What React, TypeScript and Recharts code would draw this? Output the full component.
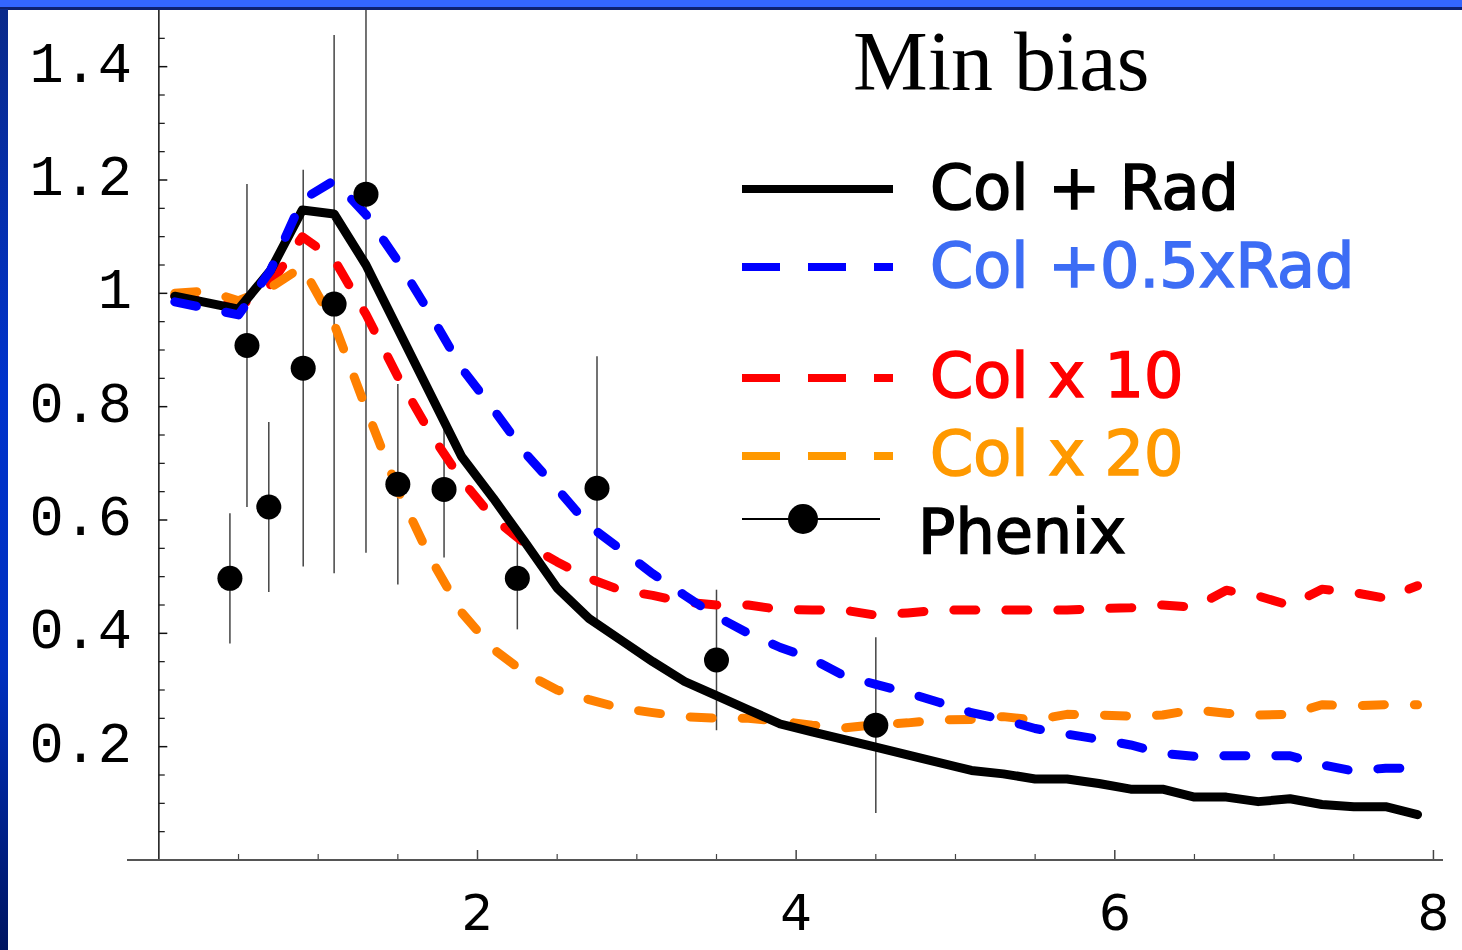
import React from 'react';
import {
  ComposedChart,
  Line,
  Scatter,
  ErrorBar,
  XAxis,
  YAxis,
  ReferenceLine,
} from 'recharts';

// Curves as [pT, ratio] pairs
const colRad: [number, number][] = [
  [0.1, 0.995], [0.5, 0.972], [0.7, 1.04], [0.9, 1.147], [1.1, 1.14], [1.3, 1.05],
  [1.9, 0.712], [2.1, 0.638], [2.3, 0.56], [2.5, 0.48], [2.7, 0.426], [2.9, 0.388],
  [3.1, 0.35], [3.3, 0.315], [3.5, 0.29], [3.7, 0.265], [3.9, 0.24], [4.1, 0.226],
  [4.5, 0.199], [5.1, 0.158], [5.3, 0.152], [5.5, 0.143], [5.7, 0.143], [5.9, 0.135],
  [6.1, 0.125], [6.3, 0.125], [6.5, 0.111], [6.7, 0.111], [6.9, 0.103], [7.1, 0.108],
  [7.3, 0.098], [7.5, 0.094], [7.7, 0.094], [7.9, 0.08],
];

const colHalfRad: [number, number][] = [
  [0.1, 0.985], [0.5, 0.962], [0.7, 1.04], [0.9, 1.165], [1.1, 1.199], [1.3, 1.139],
  [1.5, 1.057], [1.7, 0.965], [1.9, 0.868], [2.1, 0.795], [2.3, 0.718], [2.5, 0.655],
  [2.7, 0.59], [2.9, 0.548], [3.1, 0.505], [3.3, 0.467], [3.5, 0.43], [3.7, 0.4],
  [3.9, 0.375], [4.1, 0.355], [4.3, 0.325], [4.5, 0.31], [4.7, 0.295], [4.9, 0.278],
  [5.1, 0.26], [5.3, 0.248], [5.5, 0.232], [5.7, 0.222], [5.9, 0.213], [6.1, 0.203],
  [6.3, 0.188], [6.5, 0.183], [6.7, 0.184], [6.9, 0.184], [7.1, 0.184], [7.3, 0.168],
  [7.5, 0.157], [7.7, 0.162], [7.9, 0.162],
];

const colX10: [number, number][] = [
  [0.1, 0.995], [0.5, 0.975], [0.7, 1.015], [0.9, 1.1], [1.1, 1.06], [1.3, 0.963],
  [1.5, 0.853], [1.7, 0.755], [1.9, 0.671], [2.1, 0.603], [2.3, 0.558], [2.5, 0.526],
  [2.7, 0.497], [2.9, 0.476], [3.1, 0.467], [3.3, 0.455], [3.5, 0.45], [3.7, 0.45],
  [3.9, 0.442], [4.1, 0.441], [4.3, 0.441], [4.5, 0.432], [4.7, 0.436], [4.9, 0.441],
  [5.1, 0.441], [5.3, 0.441], [5.5, 0.441], [5.7, 0.441], [5.9, 0.444], [6.1, 0.445],
  [6.3, 0.45], [6.5, 0.446], [6.7, 0.476], [6.9, 0.466], [7.1, 0.449], [7.3, 0.478],
  [7.5, 0.472], [7.7, 0.462], [7.9, 0.484],
];

const colX20: [number, number][] = [
  [0.1, 1.0], [0.3, 1.004], [0.5, 0.987], [0.7, 1.01], [0.9, 1.047], [1.1, 0.946],
  [1.3, 0.797], [1.5, 0.653], [1.7, 0.535], [1.9, 0.437], [2.1, 0.372], [2.3, 0.33],
  [2.5, 0.3], [2.7, 0.283], [2.9, 0.268], [3.1, 0.26], [3.3, 0.253], [3.5, 0.25],
  [3.7, 0.25], [3.9, 0.245], [4.1, 0.238], [4.3, 0.233], [4.5, 0.239], [4.7, 0.242],
  [4.9, 0.247], [5.1, 0.248], [5.3, 0.253], [5.5, 0.247], [5.7, 0.257], [5.9, 0.256],
  [6.1, 0.254], [6.3, 0.256], [6.5, 0.265], [6.7, 0.259], [6.9, 0.256], [7.1, 0.257],
  [7.3, 0.274], [7.5, 0.272], [7.7, 0.274], [7.9, 0.274],
];

// Phenix data points
const phenixX = [0.446, 0.553, 0.69, 0.906, 1.1, 1.3, 1.5, 1.79, 2.25, 2.75, 3.5, 4.5];
const phenixY = [0.497, 0.908, 0.623, 0.868, 0.981, 1.175, 0.663, 0.654, 0.497, 0.656, 0.353, 0.238];
const phenixErr = [0.115, 0.285, 0.15, 0.35, 0.475, 0.633, 0.177, 0.12, 0.09, 0.233, 0.124, 0.155];

// Axis ticks
const xTicks = [2, 4, 6, 8];
const xMinorTicks = [0.5, 1, 1.5, 2.5, 3, 3.5, 4.5, 5, 5.5, 6.5, 7, 7.5];
const yTicks = [0.2, 0.4, 0.6, 0.8, 1, 1.2, 1.4];
const yMinorTicks = [
  0.05, 0.1, 0.15, 0.25, 0.3, 0.35, 0.45, 0.5, 0.55, 0.65, 0.7, 0.75, 0.85, 0.9, 0.95,
  1.05, 1.1, 1.15, 1.25, 1.3, 1.35, 1.45,
];

const toRows = (pts: [number, number][]) => pts.map(([x, y]) => ({ x, y }));
const phenix = phenixX.map((x, i) => ({ x, y: phenixY[i], err: phenixErr[i] }));

const SERIES = [
  { name: 'Col x 10', data: toRows(colX10), color: '#ff0000', dash: '22 30' },
  { name: 'Col x 20', data: toRows(colX20), color: '#ff8000', dash: '22 30' },
  { name: 'Col + Rad', data: toRows(colRad), color: '#000000', dash: undefined },
  { name: 'Col +0.5xRad', data: toRows(colHalfRad), color: '#0000ff', dash: '22 30' },
];

const LEGEND = [
  { label: 'Col + Rad', stroke: '#000000', text: '#000000', dash: undefined, lineY: 189, textY: 209 },
  { label: 'Col +0.5xRad', stroke: '#0000ff', text: '#3d6df5', dash: '38 28', lineY: 267, textY: 287 },
  { label: 'Col x 10', stroke: '#ff0000', text: '#ff0000', dash: '38 28', lineY: 378, textY: 397 },
  { label: 'Col x 20', stroke: '#ff9900', text: '#ff9900', dash: '38 28', lineY: 456, textY: 475 },
];

const LEGEND_FONT = '"DejaVu Sans", sans-serif';

function YTick({ y, payload }: any) {
  return (
    <text x={132} y={y + 15} textAnchor="end" fontFamily='"Liberation Mono", monospace' fontSize={57} fill="#000">
      {String(payload.value)}
    </text>
  );
}

function XTick({ x, payload }: any) {
  return (
    <text x={x} y={930} textAnchor="middle" fontFamily={LEGEND_FONT} fontSize={50} fill="#000">
      {String(payload.value)}
    </text>
  );
}

function Overlay() {
  return (
    <svg width={1462} height={950} style={{ position: 'absolute', left: 0, top: 0, pointerEvents: 'none' }}>
      <text x={853} y={90} fontFamily='"Liberation Serif", serif' fontSize={84} fill="#000">
        Min bias
      </text>
      {LEGEND.map((item) => (
        <g key={item.label}>
          <line x1={742} x2={893} y1={item.lineY} y2={item.lineY} stroke={item.stroke} strokeWidth={8} strokeDasharray={item.dash} />
          <text
            x={930}
            y={item.textY}
            fontFamily={LEGEND_FONT}
            fontSize={62}
            fill={item.text}
            stroke={item.text}
            strokeWidth={1.6}
          >
            {item.label}
          </text>
        </g>
      ))}
      <line x1={742} x2={880} y1={519} y2={519} stroke="#000" strokeWidth={2} />
      <circle cx={803} cy={519} r={15} fill="#000" />
      <text x={918} y={553} fontFamily={LEGEND_FONT} fontSize={62} fill="#000" stroke="#000" strokeWidth={1.6}>
        Phenix
      </text>
    </svg>
  );
}

export default function App() {
  return (
    <div style={{ position: 'fixed', left: 0, top: 0, width: 1462, height: 950, background: '#fff', overflow: 'hidden' }}>
      <ComposedChart width={1462} height={950} margin={{ top: 10, right: 19, left: 67, bottom: 0 }}>
        <XAxis
          type="number"
          dataKey="x"
          domain={[-0.2, 8.06]}
          allowDataOverflow
          ticks={xTicks}
          tick={<XTick />}
          tickLine={false}
          axisLine={{ stroke: '#555', strokeWidth: 2 }}
          height={90}
        />
        <YAxis
          type="number"
          dataKey="y"
          domain={[0, 1.5]}
          allowDataOverflow
          ticks={yTicks}
          tick={<YTick />}
          tickLine={false}
          axisLine={false}
          width={60}
        />
        <ReferenceLine x={0} stroke="#111" strokeWidth={1.5} />
        {yTicks.map((v) => (
          <ReferenceLine key={`ym${v}`} segment={[{ x: 0, y: v }, { x: 0.053, y: v }]} stroke="#111" strokeWidth={1.5} />
        ))}
        {yMinorTicks.map((v) => (
          <ReferenceLine key={`yn${v}`} segment={[{ x: 0, y: v }, { x: 0.037, y: v }]} stroke="#111" strokeWidth={1.2} />
        ))}
        {xTicks.map((v) => (
          <ReferenceLine key={`xm${v}`} segment={[{ x: v, y: 0 }, { x: v, y: 0.0176 }]} stroke="#444" strokeWidth={1.5} />
        ))}
        {xMinorTicks.map((v) => (
          <ReferenceLine key={`xn${v}`} segment={[{ x: v, y: 0 }, { x: v, y: 0.0106 }]} stroke="#444" strokeWidth={1.2} />
        ))}
        <Scatter
          data={phenix}
          isAnimationActive={false}
          shape={(p: any) => <circle cx={p.cx} cy={p.cy} r={12.5} fill="#000" />}
        >
          <ErrorBar dataKey="err" direction="y" width={0} stroke="#444" strokeWidth={1.5} />
        </Scatter>
        {SERIES.map((s) => (
          <Line
            key={s.name}
            data={s.data}
            dataKey="y"
            type="linear"
            stroke={s.color}
            strokeWidth={9}
            strokeDasharray={s.dash}
            strokeLinecap="round"
            strokeLinejoin="round"
            dot={false}
            activeDot={false}
            isAnimationActive={false}
          />
        ))}
      </ComposedChart>
      <Overlay />
      {/* slide frame */}
      <div style={{ position: 'absolute', left: 0, top: 0, width: 1462, height: 7, background: '#3366ff' }} />
      <div style={{ position: 'absolute', left: 0, top: 7, width: 1462, height: 2.5, background: '#0d2170' }} />
      <div
        style={{
          position: 'absolute',
          left: 0,
          top: 9,
          width: 8,
          height: 941,
          background: 'linear-gradient(#0a2a8a, #0033cc 40%, #0030c0 70%, #001560)',
        }}
      />
    </div>
  );
}
